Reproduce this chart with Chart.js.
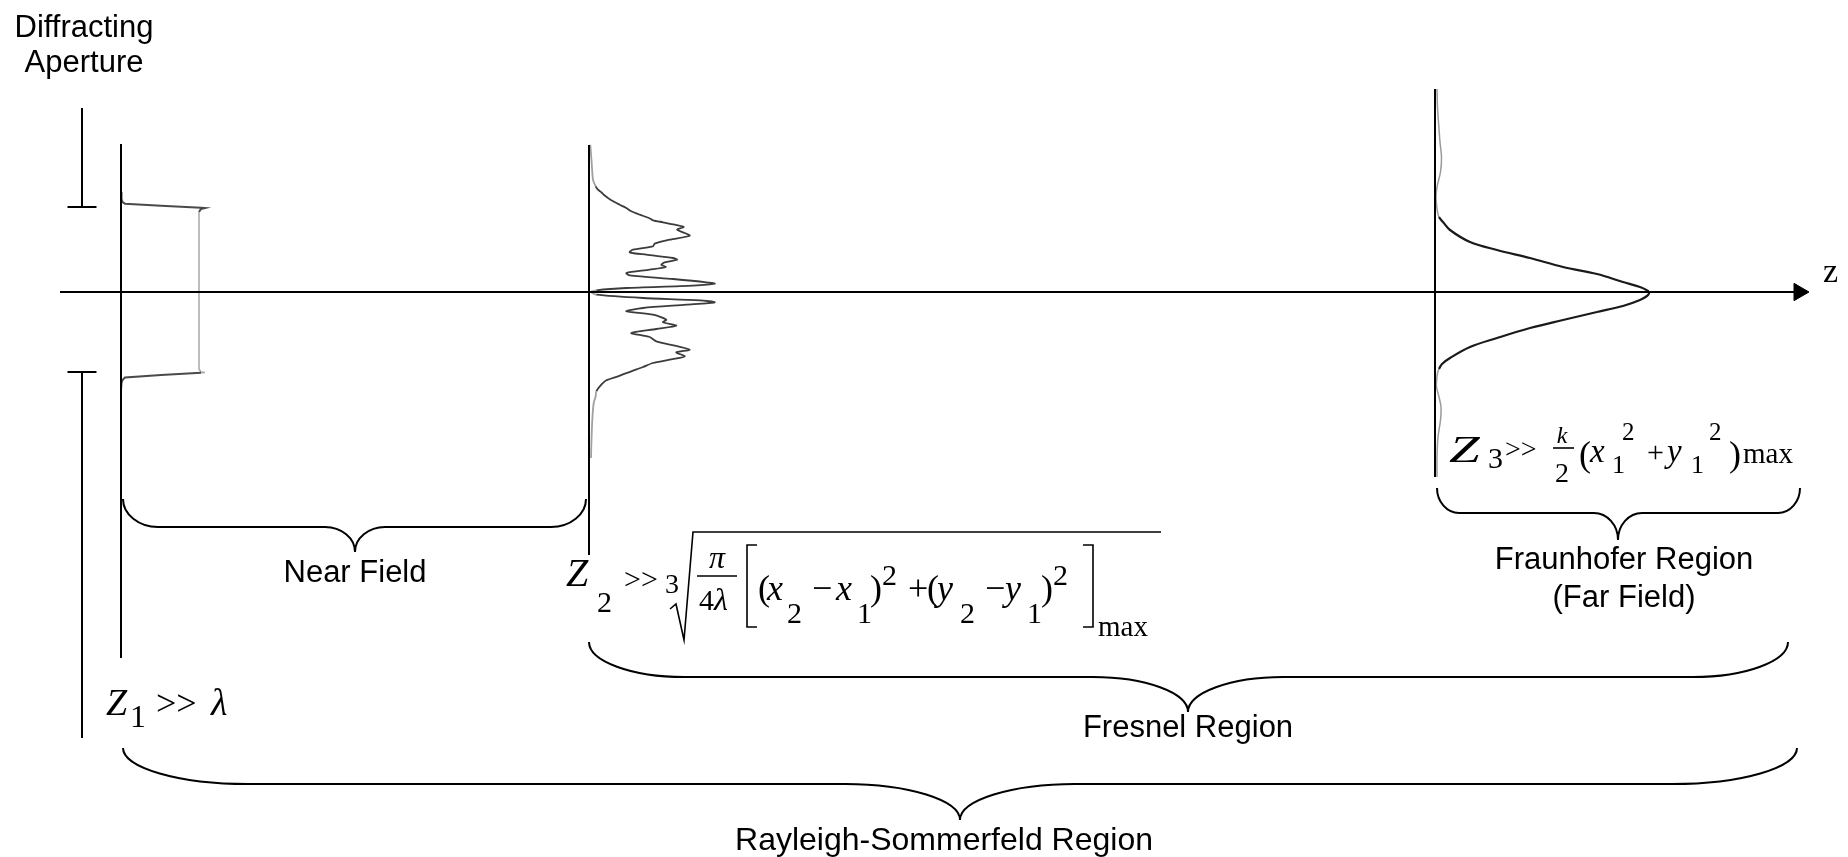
<!DOCTYPE html>
<html>
<head>
<meta charset="utf-8">
<script src="https://cdn.jsdelivr.net/npm/chart.js@4.4.1/dist/chart.umd.min.js"></script>
<style>
html,body{margin:0;padding:0;background:#ffffff;overflow:hidden}
#wrap{width:1848px;height:857px;position:relative}
</style>
</head>
<body>
<div id="wrap"><canvas id="c"></canvas></div>
<script>
// ================= DATA =================
// z positions of the three observation planes (diagram units along the optical axis)
const planeZ = [121, 589, 1435];
// transverse extent of each plane line (above(+) / below(-) the axis)
const planeTopT = [148, 147, 203];
const planeBottomT = [-366, -263, -185];

// diffracting aperture (opaque screen with an opening)
const apertureZ = 82;
const apertureTopT = 184;
const apertureEdgeT = [85, -80];
const apertureBottomT = -446;

// optical axis extent
const axisStartZ = 60;
const axisEndZ = 1799;

// near-field intensity profile: transverse position vs intensity
const nearT = [100, 93, 90, 88.3, 86.2, 84.3, 84, 83, 80, 40, 0, -40, -77, -80, -80.5, -80.8, -83, -85.5, -88, -91, -98];
const nearI = [0, 0.5, 1.5, 4, 40, 80, 84, 80, 78, 78, 78, 78, 78, 80, 84, 80, 40, 4, 1.5, 0.5, 0];

// Fresnel intensity profile
const fresT = [147.3,129,112.3,105.7,102.3,99.7,97.3,94,91.7,87.3,84,80.7,77.3,74,71.7,69.7,67.3,65,62.3,59,56.3,52.3,48.3,45.7,42.3,39.7,37.3,34,32.3,29.7,27.3,25,22.3,19,16.7,13,9.7,8.3,6.3,4,1.7,0,-2.7,-6,-8.3,-10.3,-12.7,-16,-19.3,-22.7,-27.7,-30.3,-33.7,-37,-41,-45,-49.3,-53.7,-57.7,-60.3,-64.3,-67.7,-71,-75,-79.3,-84.3,-88.3,-92.7,-99.3,-104.3,-111,-127.7,-154.3,-166];
const fresI = [1.3,2.7,4,6.7,9,12.3,14.7,19,22.3,30.7,37.3,42.3,50.7,60,64,74,85.7,94.7,88,95.7,100.7,80.7,65.7,64,44,40.7,57.3,84,88,75.7,72.3,76.7,60.7,37.3,40.7,84,117.3,125.7,104,37.3,7.3,2,7.3,54,110.7,125.7,97.3,54,37.3,64,77.3,74,87.3,67.3,42.3,60.7,67.3,85.7,100.7,87.3,95.7,80.7,64,54,42.3,29,17.3,12.3,7.3,6.7,4.7,3.3,2.3,2];

// Fraunhofer intensity profile
const fraT = [203,185,170,150,135,120,105,95,88,80,75,70,62,50,42,34,25,18,10,5,1,-1.5,-4,-8,-14,-20,-28,-36,-46,-55,-66,-72,-77,-81,-90,-95,-105,-115,-128,-145,-165,-185];
const fraI = [2,2.5,3.5,5,6.5,5.5,2,1,1.5,2.5,4,8,15,35,62,95,128,162,188,205,213,214,212,205,188,162,128,95,62,35,15,7,4,2.5,1.5,1.5,4,6,5.5,3,2,2];

// texts
const titleLines = ['Diffracting', 'Aperture'];
const regionNames = ['Near Field', 'Fresnel Region', 'Fraunhofer Region', '(Far Field)', 'Rayleigh-Sommerfeld Region'];
const axisName = 'z';

// ================= LAYOUT (positions / sizes / styles) =================
const W = 1848, H = 857;
const AXIS_Y = 292;
const SANS = '"Liberation Sans", Arial, sans-serif';
const SERIF = '"Liberation Serif", "Times New Roman", serif';
const apertureTickHalf = 14.5;

const titlePos = [[84, 37], [84, 72]];
const regionPos = [[355, 582], [1188, 737], [1624, 569], [1624, 607], [944, 850]];
const regionSize = [31, 31, 31, 31, 32];
const axisNamePos = [1823, 282, 34];

// braces: xL, xR, yTip, yFlat, xC, yPoint, end-curve width, middle-curve width
const braces = [
  [123, 586, 499, 527, 355, 552, 35, 30],
  [589, 1788, 642, 677, 1188, 712, 95, 95],
  [1437, 1800, 488, 513, 1618, 540, 22, 24],
  [123, 1797, 748, 784, 960, 820, 125, 115]
];

// math tokens: [text, x, baseline, size, italic, align, scaleX]
const mathTokens = [
  // z1 >> lambda
  ['Z',106,715,38,1], ['1',130,727,32,0], ['>>',156,715,36,0], ['\u03BB',211,715,38,1],
  // z2 condition
  ['Z',566,586,40,1], ['2',597,612,30,0], ['>>',624,589,30,0], ['3',665,593,28,0],
  ['\u03C0',717,568,32,1,'center'], ['4',699,610,30,0], ['\u03BB',714,610,32,1],
  ['(',758,600,36,0], ['x',767,600,36,1], ['2',787,623,30,0], ['\u2212',812,600,36,0],
  ['x',836,600,36,1], ['1',857,623,30,0], [')',870,600,36,0], ['2',882,585,30,0],
  ['+',908,600,36,0], ['(',927,600,36,0], ['y',937,600,36,1], ['2',960,623,30,0],
  ['\u2212',985,600,36,0], ['y',1005,600,36,1], ['1',1027,623,30,0], [')',1041,600,36,0],
  ['2',1053,585,30,0], ['max',1098,636,29,0],
  // z3 condition
  ['Z',1449,462,38,1,'left',1.45], ['3',1488,468,30,0], ['>>',1505,458,28,0],
  ['k',1562,443,24,1,'center'], ['2',1562,482,28,0,'center'], ['(',1579,466,36,0],
  ['x',1590,462,33,1], ['1',1612,473,26,0], ['2',1622,440,25,0], ['+',1647,462,30,0],
  ['y',1667,462,33,1], ['1',1691,473,26,0], ['2',1709,440,25,0], [')',1729,466,36,0],
  ['max',1743,463,29,0]
];
// math strokes: fraction bars, radical sign with vinculum, square brackets
const mathStrokes = [
  [[697,576],[737,576]],
  [[1553,448],[1574,448]],
  [[670,609],[676,604],[684,640],[693,532],[1161,532]],
  [[757,545],[747,545],[747,627],[757,627]],
  [[1083,545],[1093,545],[1093,627],[1083,627]]
];

// ================= DATASETS =================
const toY = t => AXIS_Y - t;
const profile = (z, T, I) => T.map((t, i) => ({x: z + I[i], y: toY(t)}));

const datasets = [];
// optical axis with arrow head
datasets.push({
  data: [{x: axisStartZ, y: AXIS_Y}, {x: axisEndZ, y: AXIS_Y}],
  borderColor: '#000', borderWidth: 2, tension: 0,
  pointRadius: c => c.dataIndex === 1 ? 10 : 0,
  pointStyle: 'triangle', rotation: 90,
  pointBackgroundColor: '#000', pointBorderColor: '#000', pointBorderWidth: 1
});
// aperture screen
datasets.push({
  data: [{x: apertureZ, y: toY(apertureTopT)}, {x: apertureZ, y: toY(apertureEdgeT[0])},
         {x: apertureZ - apertureTickHalf, y: toY(apertureEdgeT[0])}, {x: apertureZ + apertureTickHalf, y: toY(apertureEdgeT[0])}],
  borderColor: '#000', borderWidth: 2, tension: 0, pointRadius: 0
});
datasets.push({
  data: [{x: apertureZ, y: toY(apertureBottomT)}, {x: apertureZ, y: toY(apertureEdgeT[1])},
         {x: apertureZ - apertureTickHalf, y: toY(apertureEdgeT[1])}, {x: apertureZ + apertureTickHalf, y: toY(apertureEdgeT[1])}],
  borderColor: '#000', borderWidth: 2, tension: 0, pointRadius: 0
});
// observation planes
planeZ.forEach((z, i) => {
  datasets.push({
    data: [{x: z, y: toY(planeTopT[i])}, {x: z, y: toY(planeBottomT[i])}],
    borderColor: '#000', borderWidth: 2, tension: 0, pointRadius: 0
  });
});
// near-field profile
const nearInner = c => Math.abs(toY(c.p0.parsed.y)) < 81.5 && Math.abs(toY(c.p1.parsed.y)) < 81.5 && c.p0.parsed.x > planeZ[0] + 70;
datasets.push({
  data: profile(planeZ[0], nearT, nearI),
  borderColor: '#4a4a4a', borderWidth: 2, tension: 0, pointRadius: 0,
  segment: {
    borderColor: c => nearInner(c) ? '#a8a8a8' : '#4a4a4a',
    borderWidth: c => nearInner(c) ? 1.5 : 2
  }
});
// Fresnel profile
datasets.push({
  data: profile(planeZ[1], fresT, fresI),
  borderColor: '#3c3c3c', borderWidth: 1.8, tension: 0.25, pointRadius: 0,
  segment: {
    borderColor: c => (c.p0.parsed.x - planeZ[1] < 8 && c.p1.parsed.x - planeZ[1] < 8) ? '#a0a0a0' : '#3c3c3c'
  }
});
// Fraunhofer profile
const fraTail = c => c.p0.parsed.x - planeZ[2] < 7 && c.p1.parsed.x - planeZ[2] < 7;
datasets.push({
  data: profile(planeZ[2], fraT, fraI),
  borderColor: '#1a1a1a', borderWidth: 2.2, tension: 0.35, pointRadius: 0,
  segment: {
    borderColor: c => fraTail(c) ? '#9a9a9a' : '#1a1a1a',
    borderWidth: c => fraTail(c) ? 1.5 : 2.2
  }
});

// ================= ANNOTATIONS =================
const diagramPlugin = {
  id: 'diagram',
  afterDatasetsDraw(chart) {
    const ctx = chart.ctx;
    const X = v => chart.scales.x.getPixelForValue(v);
    const Y = v => chart.scales.y.getPixelForValue(v);
    ctx.save();
    ctx.fillStyle = '#000';
    ctx.strokeStyle = '#000';
    // braces
    ctx.lineWidth = 2;
    const k = 0.55;
    braces.forEach(b => {
      const xL = X(b[0]), xR = X(b[1]), yT = Y(b[2]), yF = Y(b[3]), xC = X(b[4]), yP = Y(b[5]), wE = b[6], wM = b[7];
      ctx.beginPath();
      ctx.moveTo(xL, yT);
      ctx.bezierCurveTo(xL, yT + k * (yF - yT), xL + wE * (1 - k), yF, xL + wE, yF);
      ctx.lineTo(xC - wM, yF);
      ctx.bezierCurveTo(xC - wM * (1 - k), yF, xC, yP - k * (yP - yF), xC, yP);
      ctx.bezierCurveTo(xC, yP - k * (yP - yF), xC + wM * (1 - k), yF, xC + wM, yF);
      ctx.lineTo(xR - wE, yF);
      ctx.bezierCurveTo(xR - wE * (1 - k), yF, xR, yT + k * (yF - yT), xR, yT);
      ctx.stroke();
    });
    // sans-serif labels
    ctx.textAlign = 'center';
    ctx.textBaseline = 'alphabetic';
    ctx.font = '31px ' + SANS;
    titleLines.forEach((s, i) => ctx.fillText(s, X(titlePos[i][0]), Y(titlePos[i][1])));
    regionNames.forEach((s, i) => {
      ctx.font = regionSize[i] + 'px ' + SANS;
      ctx.fillText(s, X(regionPos[i][0]), Y(regionPos[i][1]));
    });
    // axis name
    ctx.textAlign = 'left';
    ctx.font = axisNamePos[2] + 'px ' + SERIF;
    ctx.fillText(axisName, X(axisNamePos[0]), Y(axisNamePos[1]));
    // math
    mathTokens.forEach(t => {
      ctx.save();
      ctx.font = (t[4] ? 'italic ' : '') + t[3] + 'px ' + SERIF;
      ctx.textAlign = t[5] || 'left';
      ctx.translate(X(t[1]), Y(t[2]));
      if (t[6]) ctx.scale(t[6], 1);
      ctx.fillText(t[0], 0, 0);
      ctx.restore();
    });
    ctx.lineWidth = 1.6;
    mathStrokes.forEach(p => {
      ctx.beginPath();
      p.forEach((q, i) => i ? ctx.lineTo(X(q[0]), Y(q[1])) : ctx.moveTo(X(q[0]), Y(q[1])));
      ctx.stroke();
    });
    ctx.restore();
  }
};

new Chart(document.getElementById('c'), {
  type: 'line',
  data: { datasets },
  options: {
    responsive: true,
    maintainAspectRatio: false,
    devicePixelRatio: 1,
    animation: false,
    layout: { padding: 0, autoPadding: false },
    scales: {
      x: { type: 'linear', min: 0, max: W, display: false },
      y: { type: 'linear', min: 0, max: H, reverse: true, display: false }
    },
    plugins: { legend: { display: false }, tooltip: { enabled: false } },
    elements: { line: { fill: false } }
  },
  plugins: [diagramPlugin]
});
</script>
</body>
</html>
